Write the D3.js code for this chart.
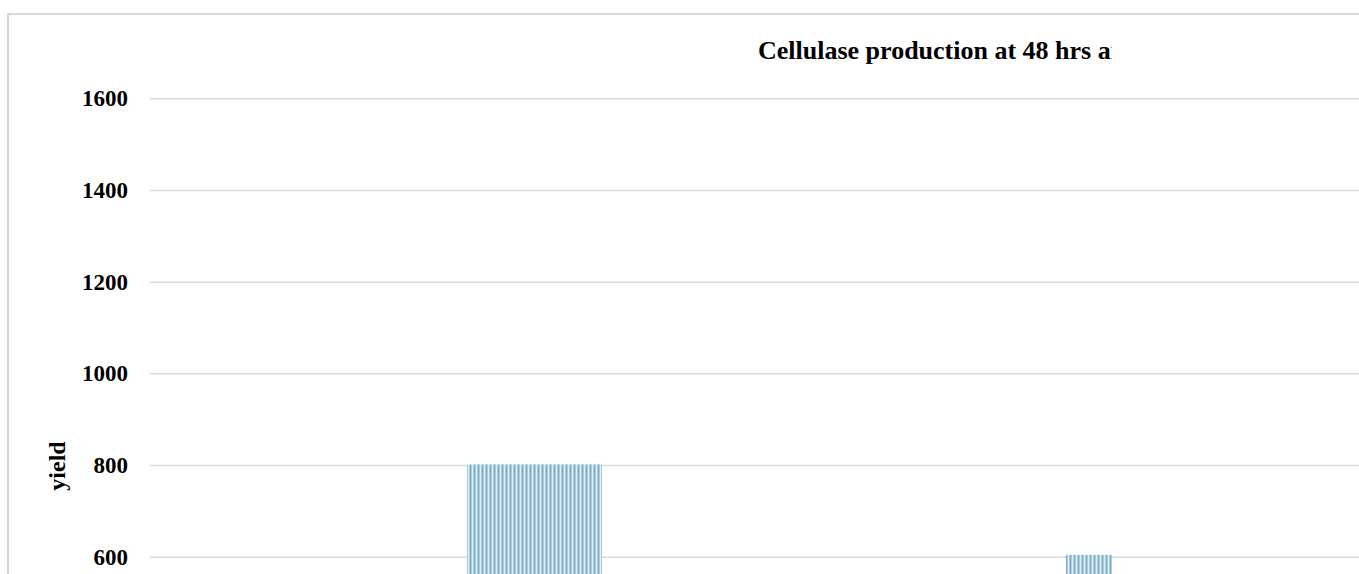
<!DOCTYPE html>
<html>
<head>
<meta charset="utf-8">
<script src="https://cdn.jsdelivr.net/npm/d3@7"></script>
<style>
  body { margin: 0; background: #fff; }
  svg text { font-family: "Liberation Serif", "DejaVu Serif", serif; }
</style>
</head>
<body>
<div id="chart"></div>
<script>
// data
const categories = ['Sample A', 'Sample B'];
const yieldValues = [801, 604];
const yTicks = [600, 800, 1000, 1200, 1400, 1600];
const titleText = 'Cellulase production at 48 hrs and 72 hrs';

const width = 1359;
const height = 574;
const barWidths = [135, 46];
const serif = '"Liberation Serif", "DejaVu Serif", serif';

const svg = d3.select('#chart')
  .append('svg')
  .attr('width', width)
  .attr('height', height);

const defs = svg.append('defs');

// narrow vertical stripe fill
const pat = defs.append('pattern')
  .attr('id', 'stripes')
  .attr('patternUnits', 'userSpaceOnUse')
  .attr('width', 4)
  .attr('height', 4);
['#dcf2f9', '#a8cce0', '#84aac6', '#a8cce0'].forEach((c, i) => {
  pat.append('rect').attr('x', i).attr('y', 0).attr('width', 1).attr('height', 4).attr('fill', c);
});

defs.append('clipPath').attr('id', 'titleClip')
  .append('rect').attr('x', 0).attr('y', 0).attr('width', 1112).attr('height', height);

// chart area border (only top and left show)
svg.append('rect')
  .attr('x', 8)
  .attr('y', 14)
  .attr('width', 1500)
  .attr('height', 900)
  .attr('fill', 'none')
  .attr('stroke', '#d9d9d9')
  .attr('stroke-width', 2);

const y = d3.scaleLinear()
  .domain([0, 1600])
  .range([831.7, 98.3]);

const x = d3.scalePoint()
  .domain(categories)
  .range([534.5, 1089]);

const yAxis = d3.axisLeft(y)
  .tickValues(yTicks)
  .tickFormat(d3.format('d'))
  .tickSize(-(width - 150))
  .tickPadding(22);

const gy = svg.append('g')
  .attr('transform', 'translate(150,0)')
  .call(yAxis);
gy.attr('font-family', null);
gy.select('.domain').remove();
gy.selectAll('.tick line')
  .attr('stroke', '#d9d9d9')
  .attr('stroke-width', 1.5);
gy.selectAll('.tick text')
  .attr('fill', '#000')
  .style('font-family', serif)
  .style('font-size', '23px')
  .style('font-weight', 'bold');

svg.append('g')
  .selectAll('rect')
  .data(yieldValues)
  .enter()
  .append('rect')
  .attr('x', (d, i) => x(categories[i]) - barWidths[i] / 2)
  .attr('y', d => y(d))
  .attr('width', (d, i) => barWidths[i])
  .attr('height', d => y(0) - y(d))
  .attr('fill', 'url(#stripes)');

svg.append('text')
  .attr('x', 758)
  .attr('y', 59)
  .attr('clip-path', 'url(#titleClip)')
  .style('font-family', serif)
  .style('font-size', '26px')
  .style('font-weight', 'bold')
  .text(titleText);

svg.append('text')
  .attr('transform', 'translate(65,466) rotate(-90)')
  .attr('text-anchor', 'middle')
  .style('font-family', serif)
  .style('font-size', '24px')
  .style('font-weight', 'bold')
  .text('yield');
</script>
</body>
</html>
